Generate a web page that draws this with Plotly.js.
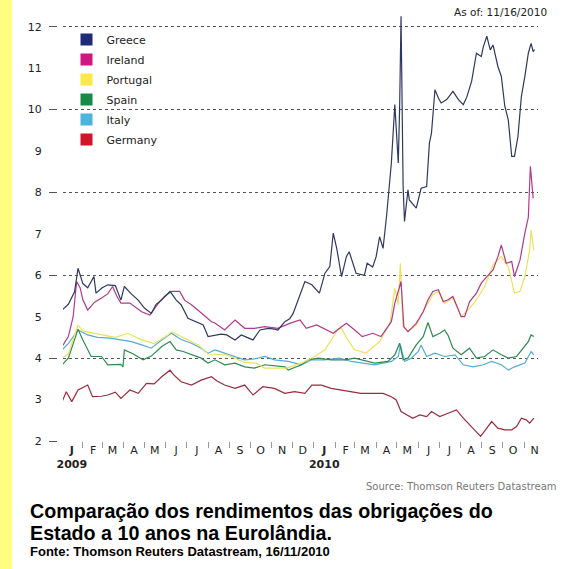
<!DOCTYPE html>
<html>
<head>
<meta charset="utf-8">
<script src="https://cdn.plot.ly/plotly-3.0.1.min.js"></script>
<style>
  html, body { margin:0; padding:0; background:#ffffff; }
  #strip { position:absolute; left:0; top:0; width:12px; height:569px; background:#ffff80; }
  #chart { position:absolute; left:0; top:0; width:562px; height:569px; }
</style>
</head>
<body>
<div id="strip"></div>
<div id="chart"></div>
<script>
// ---------- DATA (10-year government bond yields, %) ----------
const countries = ['Greece', 'Ireland', 'Portugal', 'Spain', 'Italy', 'Germany'];

const greeceDates = ['2009-01-02','2009-01-11','2009-01-20','2009-01-25','2009-02-01','2009-02-08','2009-02-17','2009-02-20','2009-03-01','2009-03-09','2009-03-20','2009-03-28','2009-04-02','2009-04-12','2009-04-22','2009-05-01','2009-05-11','2009-05-18','2009-05-26','2009-06-07','2009-06-16','2009-06-23','2009-07-03','2009-07-12','2009-07-25','2009-08-01','2009-08-11','2009-08-20','2009-08-28','2009-09-01','2009-09-09','2009-09-18','2009-10-05','2009-10-15','2009-10-27','2009-11-05','2009-11-10','2009-11-20','2009-11-27','2009-12-02','2009-12-09','2009-12-14','2009-12-19','2009-12-29','2010-01-09','2010-01-17','2010-01-24','2010-01-29','2010-02-03','2010-02-10','2010-02-17','2010-02-21','2010-03-03','2010-03-15','2010-03-19','2010-03-27','2010-04-01','2010-04-06','2010-04-11','2010-04-16','2010-04-23','2010-04-28','2010-05-03','2010-05-05','2010-05-07','2010-05-10','2010-05-12','2010-05-17','2010-05-19','2010-05-29','2010-06-05','2010-06-13','2010-06-17','2010-06-20','2010-06-25','2010-06-30','2010-07-04','2010-07-12','2010-07-21','2010-07-29','2010-08-05','2010-08-10','2010-08-17','2010-08-24','2010-08-31','2010-09-03','2010-09-08','2010-09-13','2010-09-17','2010-09-24','2010-09-29','2010-10-04','2010-10-09','2010-10-14','2010-10-18','2010-10-23','2010-10-28','2010-11-02','2010-11-07','2010-11-11','2010-11-14','2010-11-16'];
const greeceYields = [5.16,5.3,5.6,6.17,5.8,5.7,5.97,5.57,5.7,5.77,5.75,5.4,5.73,5.55,5.4,5.21,5.08,5.3,5.41,5.61,5.4,5.29,4.96,4.9,4.8,4.52,4.56,4.58,4.56,4.52,4.44,4.56,4.44,4.68,4.72,4.7,4.68,4.88,4.95,5.08,5.41,5.61,5.85,5.77,5.57,6.05,6.21,7.02,6.65,5.97,6.45,6.57,6.05,6.0,6.29,6.2,6.45,6.93,6.65,7.42,8.71,10.12,8.71,10.08,12.25,8.14,7.3,8.06,7.82,7.62,8.1,8.14,9.19,9.43,10.48,10.28,10.16,10.24,10.44,10.24,10.12,10.3,10.68,11.36,11.28,11.52,11.77,11.44,11.56,11.04,10.8,10.08,9.75,8.87,8.87,9.35,10.32,10.8,11.36,11.6,11.4,11.45];

const irelandDates = ['2009-01-02','2009-01-11','2009-01-18','2009-01-23','2009-01-28','2009-02-01','2009-02-08','2009-02-18','2009-02-28','2009-03-09','2009-03-16','2009-03-22','2009-03-28','2009-04-10','2009-04-27','2009-05-09','2009-05-20','2009-05-30','2009-06-09','2009-06-21','2009-06-28','2009-07-08','2009-07-18','2009-08-01','2009-08-06','2009-08-11','2009-08-25','2009-09-09','2009-09-23','2009-10-07','2009-10-22','2009-11-10','2009-11-27','2009-12-12','2009-12-21','2010-01-05','2010-01-19','2010-01-29','2010-02-10','2010-02-17','2010-03-01','2010-03-12','2010-03-27','2010-04-08','2010-04-23','2010-04-28','2010-05-07','2010-05-11','2010-05-17','2010-05-29','2010-06-08','2010-06-15','2010-06-22','2010-06-30','2010-07-07','2010-07-14','2010-07-21','2010-07-26','2010-08-02','2010-08-07','2010-08-14','2010-08-24','2010-08-31','2010-09-08','2010-09-17','2010-09-24','2010-09-29','2010-10-06','2010-10-14','2010-10-18','2010-10-26','2010-11-02','2010-11-07','2010-11-10','2010-11-14'];
const irelandYields = [4.28,4.52,5.0,5.85,5.7,5.41,5.16,5.35,5.45,5.55,5.73,5.5,5.33,5.33,5.12,5.04,5.3,5.49,5.61,5.61,5.4,5.29,5.15,4.95,4.88,4.85,4.68,4.92,4.72,4.72,4.76,4.72,4.84,4.92,4.72,4.8,4.68,4.6,4.76,4.84,4.68,4.52,4.6,4.52,4.88,5.33,5.85,4.76,4.64,4.84,5.12,5.41,5.61,5.65,5.36,5.41,5.49,5.3,5.0,5.0,5.36,5.57,5.81,5.97,6.13,6.45,6.73,6.29,6.33,5.97,6.37,7.02,7.4,8.63,7.86];

const portugalDates = ['2009-01-02','2009-01-11','2009-01-25','2009-02-01','2009-02-18','2009-03-05','2009-03-20','2009-04-07','2009-04-27','2009-05-15','2009-06-04','2009-06-09','2009-06-28','2009-07-18','2009-08-01','2009-08-28','2009-09-23','2009-10-10','2009-10-22','2009-11-22','2009-12-14','2010-01-02','2010-01-17','2010-01-26','2010-02-05','2010-02-10','2010-02-19','2010-03-01','2010-03-17','2010-04-06','2010-04-21','2010-04-28','2010-05-03','2010-05-06','2010-05-10','2010-05-17','2010-05-29','2010-06-08','2010-06-22','2010-06-30','2010-07-09','2010-07-21','2010-08-02','2010-08-14','2010-08-24','2010-09-05','2010-09-17','2010-09-29','2010-10-09','2010-10-18','2010-10-26','2010-11-02','2010-11-09','2010-11-11','2010-11-15'];
const portugalYields = [4.0,4.1,4.8,4.65,4.6,4.55,4.5,4.6,4.44,4.35,4.56,4.64,4.48,4.32,4.1,4.08,3.9,3.88,3.76,3.76,3.88,4.04,4.2,4.44,4.7,4.72,4.44,4.2,4.12,4.4,4.84,5.69,5.29,6.29,4.76,4.64,4.8,5.12,5.53,5.61,5.33,5.45,5.0,5.2,5.41,5.73,6.25,6.45,6.21,5.57,5.61,5.97,6.61,7.1,6.6];

const spainDates = ['2009-01-02','2009-01-11','2009-01-25','2009-02-01','2009-02-13','2009-02-28','2009-03-09','2009-03-28','2009-03-31','2009-04-02','2009-04-15','2009-04-29','2009-05-11','2009-05-26','2009-06-07','2009-06-16','2009-06-26','2009-07-22','2009-08-01','2009-08-11','2009-08-25','2009-09-09','2009-09-23','2009-10-07','2009-10-22','2009-11-20','2009-11-25','2009-12-14','2009-12-24','2010-01-07','2010-01-26','2010-02-15','2010-03-01','2010-03-30','2010-04-18','2010-04-28','2010-05-05','2010-05-10','2010-05-17','2010-05-29','2010-06-08','2010-06-15','2010-06-22','2010-07-02','2010-07-09','2010-07-14','2010-07-21','2010-08-02','2010-08-14','2010-08-24','2010-09-05','2010-09-17','2010-09-29','2010-10-09','2010-10-21','2010-10-30','2010-11-07','2010-11-11','2010-11-15'];
const spainYields = [3.84,4.0,4.7,4.44,4.04,4.04,3.84,3.85,3.79,4.2,4.1,3.96,4.05,4.28,4.4,4.2,4.16,4.0,3.88,3.96,3.84,3.88,3.79,3.76,3.84,3.79,3.71,3.84,3.96,4.0,3.96,3.96,4.0,3.88,3.92,4.08,4.36,3.96,4.0,4.32,4.52,4.86,4.52,4.6,4.68,4.55,4.24,4.08,4.24,4.0,4.04,4.2,4.08,4.0,4.04,4.24,4.4,4.56,4.52];

const italyDates = ['2009-01-02','2009-01-11','2009-01-25','2009-02-08','2009-02-22','2009-03-09','2009-03-28','2009-04-12','2009-04-27','2009-05-11','2009-05-26','2009-06-09','2009-06-23','2009-07-08','2009-07-22','2009-08-01','2009-08-11','2009-08-25','2009-09-09','2009-09-23','2009-10-07','2009-10-22','2009-11-05','2009-11-25','2009-12-14','2009-12-29','2010-01-17','2010-02-07','2010-02-24','2010-03-30','2010-04-23','2010-05-03','2010-05-06','2010-05-12','2010-05-22','2010-06-01','2010-06-05','2010-06-13','2010-06-25','2010-07-09','2010-07-24','2010-08-05','2010-08-19','2010-09-03','2010-09-15','2010-09-29','2010-10-09','2010-10-18','2010-11-02','2010-11-11','2010-11-15'];
const italyYields = [4.2,4.35,4.68,4.56,4.5,4.49,4.44,4.4,4.32,4.24,4.44,4.6,4.45,4.36,4.24,4.12,4.2,4.12,4.04,3.96,3.98,4.04,3.96,3.92,3.84,3.96,3.96,4.0,3.92,3.84,3.92,4.04,4.32,3.92,4.0,4.16,4.32,4.04,4.12,4.04,4.08,3.84,3.79,3.84,3.92,3.84,3.71,3.79,3.88,4.16,4.08];

const germanyDates = ['2009-01-02','2009-01-08','2009-01-16','2009-01-25','2009-02-08','2009-02-15','2009-02-28','2009-03-09','2009-03-20','2009-03-28','2009-04-10','2009-04-22','2009-05-04','2009-05-15','2009-05-26','2009-06-07','2009-06-12','2009-06-23','2009-07-08','2009-07-22','2009-08-06','2009-08-14','2009-08-25','2009-09-09','2009-09-23','2009-10-05','2009-10-19','2009-11-05','2009-11-20','2009-12-04','2009-12-19','2009-12-29','2010-01-12','2010-01-26','2010-02-10','2010-02-24','2010-03-10','2010-03-30','2010-04-11','2010-04-23','2010-04-30','2010-05-07','2010-05-24','2010-06-03','2010-06-13','2010-06-20','2010-07-02','2010-07-14','2010-07-26','2010-08-05','2010-08-14','2010-08-24','2010-08-30','2010-09-08','2010-09-15','2010-09-24','2010-10-04','2010-10-14','2010-10-21','2010-10-28','2010-11-04','2010-11-09','2010-11-15'];
const germanyYields = [2.95,3.19,2.95,3.23,3.35,3.07,3.08,3.11,3.18,3.03,3.23,3.15,3.39,3.38,3.55,3.71,3.6,3.43,3.35,3.47,3.55,3.45,3.35,3.27,3.35,3.11,3.31,3.27,3.15,3.19,3.15,3.35,3.35,3.27,3.23,3.19,3.15,3.15,3.15,3.07,2.99,2.71,2.55,2.63,2.59,2.71,2.59,2.67,2.75,2.55,2.39,2.23,2.11,2.31,2.47,2.31,2.27,2.27,2.35,2.55,2.51,2.43,2.55];

// axis labels
const monthLetters = ['J','F','M','A','M','J','J','A','S','O','N','D','J','F','M','A','M','J','J','A','S','O','N'];
const yearLabels = ['2009', '2010'];
const yTickLabels = ['2','3','4','5','6','7','8','9','10','11','12'];
const asOfText = 'As of: 11/16/2010';
const sourceText = 'Source: Thomson Reuters Datastream';
const titleLine1 = 'Comparação dos rendimentos das obrigações do';
const titleLine2 = 'Estado a 10 anos na Eurolândia.';
const fonteText = 'Fonte: Thomson Reuters Datastream, 16/11/2010';

// ---------- STYLE ----------
const lineColors = ['#2f3860', '#b03a8c', '#efe05a', '#2f8a50', '#52acd6', '#9a2c3c'];
const swatchColors = ['#1f2a78', '#d0177f', '#fde84c', '#168a46', '#4fb3e0', '#d0142a'];

// build month ticks
const pad = n => String(n).padStart(2, '0');
const monthStarts = [], monthMids = [], monthText = [];
let yi = 0;
for (let i = 0; i < monthLetters.length; i++) {
  const y = 2009 + Math.floor(i / 12), m = (i % 12) + 1;
  monthStarts.push(y + '-' + pad(m) + '-01');
  monthMids.push(y + '-' + pad(m) + '-16');
  let t = monthLetters[i];
  if (m === 1) { t = '<b>' + t + '</b><br><b>' + yearLabels[yi++] + '</b>'; }
  monthText.push(t);
}

const seriesDates = [greeceDates, irelandDates, portugalDates, spainDates, italyDates, germanyDates];
const seriesYields = [greeceYields, irelandYields, portugalYields, spainYields, italyYields, germanyYields];

const traces = [];
const drawOrder = [5, 4, 3, 2, 1, 0];
drawOrder.forEach(i => {
  const t = {
    type: 'scatter', mode: 'lines', name: countries[i],
    x: seriesDates[i], y: seriesYields[i],
    line: {color: lineColors[i], width: 1.2},
    showlegend: false, hoverinfo: 'skip'
  };
  if (i === 5) { t.xaxis = 'x2'; t.yaxis = 'y2'; }
  traces.push(t);
});
// legend entries (square swatches)
countries.forEach((c, i) => {
  traces.push({
    type: 'bar', name: c, x: [null], y: [null], legendgroup: 'g' + i,
    marker: {color: swatchColors[i], line: {width: 0}},
    showlegend: true, hoverinfo: 'skip'
  });
});

const W = 562, H = 569, ML = 57, MR = 24, MT = 6, MB = 128;
const PW = W - ML - MR, PH = H - MT - MB;
const px = x => (x - ML) / PW;
const py = y => (H - MB - y) / PH;

const xRange = ['2009-01-03 07:00', '2010-11-21'];
const yRange = [2, 12.5];
const tickFont = {family: 'DejaVu Sans', size: 11, color: '#222'};

const layout = {
  width: W, height: H,
  margin: {l: ML, r: MR, t: MT, b: MB, pad: 0},
  paper_bgcolor: 'rgba(0,0,0,0)', plot_bgcolor: 'rgba(0,0,0,0)',
  showlegend: true,
  hovermode: false,
  legend: {
    x: px(66.5), y: py(25), xanchor: 'left', yanchor: 'top',
    bgcolor: 'rgba(0,0,0,0)', borderwidth: 0,
    font: {family: 'DejaVu Sans', size: 11, color: '#222'},
    traceorder: 'grouped', tracegroupgap: 1
  },
  xaxis: {
    type: 'date', domain: [6 / PW, 1], range: xRange,
    tickmode: 'array', tickvals: monthStarts,
    ticks: 'outside', ticklen: 6, tickwidth: 1, tickcolor: '#999',
    showticklabels: false, showgrid: false, zeroline: false, showline: false
  },
  xaxis2: {
    type: 'date', overlaying: 'x', anchor: 'y', domain: [6 / PW, 1], range: xRange,
    tickmode: 'array', tickvals: monthMids, ticktext: monthText, tickangle: 0,
    ticks: '', showgrid: false, zeroline: false, showline: false,
    tickfont: tickFont, ticklabelstandoff: 1
  },
  yaxis: {
    range: yRange, anchor: 'free', position: 0,
    tickmode: 'array', tickvals: yTickLabels.map(Number), ticktext: yTickLabels,
    ticks: 'outside', ticklen: 8, tickcolor: 'rgba(0,0,0,0)',
    showgrid: false, zeroline: false, showline: false,
    tickfont: tickFont, ticklabelstandoff: 5
  },
  yaxis2: {
    range: yRange, overlaying: 'y', anchor: 'free', position: 0, side: 'left',
    tick0: 2, dtick: 2,
    ticks: 'outside', ticklen: 8, tickwidth: 1, tickcolor: '#555',
    showticklabels: false, showgrid: true, griddash: 'dot', gridcolor: '#555', gridwidth: 1,
    zeroline: false, showline: false
  },
  annotations: [
    {text: asOfText, xref: 'paper', yref: 'paper', x: px(549), y: py(12), xanchor: 'right', yanchor: 'middle',
     showarrow: false, font: {family: 'DejaVu Sans', size: 10.5, color: '#222'}},
    {text: sourceText, xref: 'paper', yref: 'paper', x: px(559), y: py(487), xanchor: 'right', yanchor: 'middle',
     showarrow: false, font: {family: 'DejaVu Sans', size: 10, color: '#777'}},
    {text: '<b>' + titleLine1 + '</b>', xref: 'paper', yref: 'paper', x: px(28), y: py(511), xanchor: 'left', yanchor: 'middle',
     showarrow: false, font: {family: 'Liberation Sans', size: 19.7, color: '#000'}},
    {text: '<b>' + titleLine2 + '</b>', xref: 'paper', yref: 'paper', x: px(28), y: py(533), xanchor: 'left', yanchor: 'middle',
     showarrow: false, font: {family: 'Liberation Sans', size: 19.7, color: '#000'}},
    {text: '<b>' + fonteText + '</b>', xref: 'paper', yref: 'paper', x: px(28), y: py(551), xanchor: 'left', yanchor: 'middle',
     showarrow: false, font: {family: 'Liberation Sans', size: 13, color: '#000'}}
  ]
};

Plotly.newPlot('chart', traces, layout, {staticPlot: true, displayModeBar: false});
</script>
</body>
</html>
